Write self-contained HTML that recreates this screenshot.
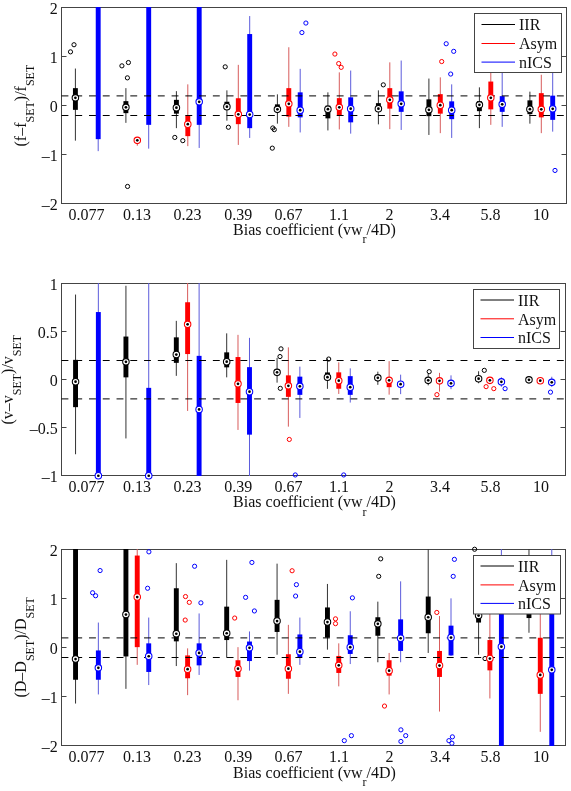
<!DOCTYPE html>
<html><head><meta charset="utf-8"><style>
html,body{margin:0;padding:0;background:#fff;}
svg{display:block;will-change:transform;}
.t{font-family:"Liberation Serif",serif;font-size:16px;fill:#111;}
</style></head><body>
<svg width="571" height="791" viewBox="0 0 571 791">
<rect width="571" height="791" fill="#fff"/>
<rect x="61.5" y="7.5" width="505.0" height="196.0" fill="none" stroke="#444" stroke-width="1"/>
<line x1="61.5" y1="7.5" x2="66.5" y2="7.5" stroke="#444" stroke-width="1"/>
<line x1="566.5" y1="7.5" x2="561.5" y2="7.5" stroke="#444" stroke-width="1"/>
<line x1="61.5" y1="56.5" x2="66.5" y2="56.5" stroke="#444" stroke-width="1"/>
<line x1="566.5" y1="56.5" x2="561.5" y2="56.5" stroke="#444" stroke-width="1"/>
<line x1="61.5" y1="105.5" x2="66.5" y2="105.5" stroke="#444" stroke-width="1"/>
<line x1="566.5" y1="105.5" x2="561.5" y2="105.5" stroke="#444" stroke-width="1"/>
<line x1="61.5" y1="154.5" x2="66.5" y2="154.5" stroke="#444" stroke-width="1"/>
<line x1="566.5" y1="154.5" x2="561.5" y2="154.5" stroke="#444" stroke-width="1"/>
<line x1="61.5" y1="203.5" x2="66.5" y2="203.5" stroke="#444" stroke-width="1"/>
<line x1="566.5" y1="203.5" x2="561.5" y2="203.5" stroke="#444" stroke-width="1"/>
<text x="57.8" y="14.0" text-anchor="end" class="t">2</text>
<text x="57.8" y="63.0" text-anchor="end" class="t">1</text>
<text x="57.8" y="112.0" text-anchor="end" class="t">0</text>
<text x="57.8" y="161.0" text-anchor="end" class="t">–1</text>
<text x="57.8" y="210.0" text-anchor="end" class="t">–2</text>
<clipPath id="c1"><rect x="61.0" y="7.0" width="506.0" height="197.0"/></clipPath>
<g clip-path="url(#c1)">
<line x1="75.4" y1="68.55" x2="75.4" y2="140.65" stroke="#333" stroke-width="1"/>
<rect x="72.95" y="88.15" width="4.9" height="21.70" fill="#000"/>
<line x1="98.2" y1="-49.75" x2="98.2" y2="151.15" stroke="#5c5cdc" stroke-width="1"/>
<rect x="95.75" y="-49.75" width="4.9" height="188.90" fill="#00f"/>
<line x1="125.9" y1="88.15" x2="125.9" y2="122.85" stroke="#333" stroke-width="1"/>
<rect x="123.45" y="101.15" width="4.9" height="12.00" fill="#000"/>
<line x1="137.3" y1="140.35" x2="137.3" y2="145.75" stroke="#d85c5c" stroke-width="1"/>
<line x1="148.7" y1="-49.75" x2="148.7" y2="148.65" stroke="#5c5cdc" stroke-width="1"/>
<rect x="146.25" y="-49.75" width="4.9" height="174.60" fill="#00f"/>
<line x1="176.4" y1="91.15" x2="176.4" y2="128.15" stroke="#333" stroke-width="1"/>
<rect x="173.95" y="99.85" width="4.9" height="13.80" fill="#000"/>
<line x1="187.8" y1="84.35" x2="187.8" y2="146.15" stroke="#d85c5c" stroke-width="1"/>
<rect x="185.35" y="115.65" width="4.9" height="20.50" fill="#f00"/>
<line x1="199.2" y1="-49.75" x2="199.2" y2="147.95" stroke="#5c5cdc" stroke-width="1"/>
<rect x="196.75" y="-49.75" width="4.9" height="174.60" fill="#00f"/>
<line x1="226.9" y1="90.35" x2="226.9" y2="120.65" stroke="#333" stroke-width="1"/>
<rect x="224.45" y="101.75" width="4.9" height="8.20" fill="#000"/>
<line x1="238.3" y1="64.85" x2="238.3" y2="144.95" stroke="#d85c5c" stroke-width="1"/>
<rect x="235.85" y="98.25" width="4.9" height="25.90" fill="#f00"/>
<line x1="249.7" y1="16.05" x2="249.7" y2="137.95" stroke="#5c5cdc" stroke-width="1"/>
<rect x="247.25" y="34.05" width="4.9" height="94.10" fill="#00f"/>
<line x1="277.4" y1="94.35" x2="277.4" y2="123.65" stroke="#333" stroke-width="1"/>
<rect x="274.95" y="104.35" width="4.9" height="7.50" fill="#000"/>
<line x1="288.8" y1="47.25" x2="288.8" y2="126.85" stroke="#d85c5c" stroke-width="1"/>
<rect x="286.35" y="88.15" width="4.9" height="28.50" fill="#f00"/>
<line x1="300.2" y1="68.85" x2="300.2" y2="132.45" stroke="#5c5cdc" stroke-width="1"/>
<rect x="297.75" y="92.35" width="4.9" height="25.00" fill="#00f"/>
<line x1="327.9" y1="92.35" x2="327.9" y2="130.45" stroke="#333" stroke-width="1"/>
<rect x="325.45" y="105.65" width="4.9" height="12.70" fill="#000"/>
<line x1="339.3" y1="72.35" x2="339.3" y2="129.45" stroke="#d85c5c" stroke-width="1"/>
<rect x="336.85" y="98.15" width="4.9" height="17.20" fill="#f00"/>
<line x1="350.7" y1="70.55" x2="350.7" y2="133.65" stroke="#5c5cdc" stroke-width="1"/>
<rect x="348.25" y="97.35" width="4.9" height="25.00" fill="#00f"/>
<line x1="378.4" y1="90.35" x2="378.4" y2="124.35" stroke="#333" stroke-width="1"/>
<rect x="375.95" y="103.15" width="4.9" height="8.00" fill="#000"/>
<line x1="389.8" y1="62.35" x2="389.8" y2="129.15" stroke="#d85c5c" stroke-width="1"/>
<rect x="387.35" y="88.15" width="4.9" height="20.50" fill="#f00"/>
<line x1="401.2" y1="60.55" x2="401.2" y2="129.95" stroke="#5c5cdc" stroke-width="1"/>
<rect x="398.75" y="91.35" width="4.9" height="20.50" fill="#00f"/>
<line x1="428.9" y1="78.55" x2="428.9" y2="134.95" stroke="#333" stroke-width="1"/>
<rect x="426.45" y="99.35" width="4.9" height="16.80" fill="#000"/>
<line x1="440.3" y1="77.35" x2="440.3" y2="133.15" stroke="#d85c5c" stroke-width="1"/>
<rect x="437.85" y="94.15" width="4.9" height="19.50" fill="#f00"/>
<line x1="451.7" y1="84.35" x2="451.7" y2="137.95" stroke="#5c5cdc" stroke-width="1"/>
<rect x="449.25" y="101.35" width="4.9" height="17.80" fill="#00f"/>
<line x1="479.4" y1="87.35" x2="479.4" y2="128.15" stroke="#333" stroke-width="1"/>
<rect x="476.95" y="101.15" width="4.9" height="10.00" fill="#000"/>
<line x1="490.8" y1="60.25" x2="490.8" y2="124.85" stroke="#d85c5c" stroke-width="1"/>
<rect x="488.35" y="81.55" width="4.9" height="27.80" fill="#f00"/>
<line x1="502.2" y1="60.25" x2="502.2" y2="126.85" stroke="#5c5cdc" stroke-width="1"/>
<rect x="499.75" y="96.15" width="4.9" height="15.70" fill="#00f"/>
<line x1="529.9" y1="91.65" x2="529.9" y2="123.65" stroke="#333" stroke-width="1"/>
<rect x="527.45" y="100.35" width="4.9" height="13.80" fill="#000"/>
<line x1="541.3" y1="74.75" x2="541.3" y2="133.15" stroke="#d85c5c" stroke-width="1"/>
<rect x="538.85" y="93.15" width="4.9" height="24.20" fill="#f00"/>
<line x1="552.7" y1="60.25" x2="552.7" y2="131.65" stroke="#5c5cdc" stroke-width="1"/>
<rect x="550.25" y="95.65" width="4.9" height="24.20" fill="#00f"/>
</g>
<line x1="61.5" y1="95.90" x2="566.5" y2="95.90" stroke="#000" stroke-width="1" stroke-dasharray="6.9 6.86"/>
<line x1="61.5" y1="115.50" x2="566.5" y2="115.50" stroke="#000" stroke-width="1" stroke-dasharray="6.9 6.86"/>
<circle cx="70.5" cy="51.85" r="2.1" fill="none" stroke="#000" stroke-width="1.0"/>
<circle cx="74" cy="44.75" r="2.1" fill="none" stroke="#000" stroke-width="1.0"/>
<circle cx="75.4" cy="97.85" r="3.25" fill="#fff" stroke="#000" stroke-width="1.05"/>
<circle cx="75.4" cy="97.85" r="1.35" fill="#000"/>
<circle cx="121.9" cy="65.85" r="2.1" fill="none" stroke="#000" stroke-width="1.0"/>
<circle cx="128.4" cy="62.55" r="2.1" fill="none" stroke="#000" stroke-width="1.0"/>
<circle cx="127.4" cy="77.85" r="2.1" fill="none" stroke="#000" stroke-width="1.0"/>
<circle cx="127.55" cy="186.45" r="2.1" fill="none" stroke="#000" stroke-width="1.0"/>
<circle cx="125.9" cy="107.35" r="3.25" fill="#fff" stroke="#000" stroke-width="1.05"/>
<circle cx="125.9" cy="107.35" r="1.35" fill="#000"/>
<circle cx="137.3" cy="140.35" r="3.25" fill="#fff" stroke="#f00" stroke-width="1.05"/>
<circle cx="137.3" cy="140.35" r="1.35" fill="#000"/>
<circle cx="174.8" cy="137.45" r="2.1" fill="none" stroke="#000" stroke-width="1.0"/>
<circle cx="182.8" cy="140.65" r="2.1" fill="none" stroke="#000" stroke-width="1.0"/>
<circle cx="176.4" cy="107.65" r="3.25" fill="#fff" stroke="#000" stroke-width="1.05"/>
<circle cx="176.4" cy="107.65" r="1.35" fill="#000"/>
<circle cx="187.8" cy="124.15" r="3.25" fill="#fff" stroke="#f00" stroke-width="1.05"/>
<circle cx="187.8" cy="124.15" r="1.35" fill="#000"/>
<circle cx="199.2" cy="101.85" r="3.25" fill="#fff" stroke="#00f" stroke-width="1.05"/>
<circle cx="199.2" cy="101.85" r="1.35" fill="#000"/>
<circle cx="225.2" cy="66.85" r="2.1" fill="none" stroke="#000" stroke-width="1.0"/>
<circle cx="228.4" cy="127.25" r="2.1" fill="none" stroke="#000" stroke-width="1.0"/>
<circle cx="226.9" cy="106.65" r="3.25" fill="#fff" stroke="#000" stroke-width="1.05"/>
<circle cx="226.9" cy="106.65" r="1.35" fill="#000"/>
<circle cx="238.3" cy="114.35" r="3.25" fill="#fff" stroke="#f00" stroke-width="1.05"/>
<circle cx="238.3" cy="114.35" r="1.35" fill="#000"/>
<circle cx="249.7" cy="114.55" r="3.25" fill="#fff" stroke="#00f" stroke-width="1.05"/>
<circle cx="249.7" cy="114.55" r="1.35" fill="#000"/>
<circle cx="272.8" cy="127.95" r="2.1" fill="none" stroke="#000" stroke-width="1.0"/>
<circle cx="274.3" cy="129.65" r="2.1" fill="none" stroke="#000" stroke-width="1.0"/>
<circle cx="272.3" cy="148.15" r="2.1" fill="none" stroke="#000" stroke-width="1.0"/>
<circle cx="277.4" cy="109.35" r="3.25" fill="#fff" stroke="#000" stroke-width="1.05"/>
<circle cx="277.4" cy="109.35" r="1.35" fill="#000"/>
<circle cx="288.8" cy="103.85" r="3.25" fill="#fff" stroke="#f00" stroke-width="1.05"/>
<circle cx="288.8" cy="103.85" r="1.35" fill="#000"/>
<circle cx="301.9" cy="32.55" r="2.1" fill="none" stroke="#00f" stroke-width="1.0"/>
<circle cx="305.9" cy="23.05" r="2.1" fill="none" stroke="#00f" stroke-width="1.0"/>
<circle cx="300.2" cy="110.15" r="3.25" fill="#fff" stroke="#00f" stroke-width="1.05"/>
<circle cx="300.2" cy="110.15" r="1.35" fill="#000"/>
<circle cx="327.9" cy="109.15" r="3.25" fill="#fff" stroke="#000" stroke-width="1.05"/>
<circle cx="327.9" cy="109.15" r="1.35" fill="#000"/>
<circle cx="334.9" cy="54.05" r="2.1" fill="none" stroke="#f00" stroke-width="1.0"/>
<circle cx="338.7" cy="63.55" r="2.1" fill="none" stroke="#f00" stroke-width="1.0"/>
<circle cx="341.2" cy="67.35" r="2.1" fill="none" stroke="#f00" stroke-width="1.0"/>
<circle cx="339.3" cy="107.35" r="3.25" fill="#fff" stroke="#f00" stroke-width="1.05"/>
<circle cx="339.3" cy="107.35" r="1.35" fill="#000"/>
<circle cx="350.7" cy="108.65" r="3.25" fill="#fff" stroke="#00f" stroke-width="1.05"/>
<circle cx="350.7" cy="108.65" r="1.35" fill="#000"/>
<circle cx="383.3" cy="84.85" r="2.1" fill="none" stroke="#000" stroke-width="1.0"/>
<circle cx="378.4" cy="108.65" r="3.25" fill="#fff" stroke="#000" stroke-width="1.05"/>
<circle cx="378.4" cy="108.65" r="1.35" fill="#000"/>
<circle cx="389.8" cy="99.85" r="3.25" fill="#fff" stroke="#f00" stroke-width="1.05"/>
<circle cx="389.8" cy="99.85" r="1.35" fill="#000"/>
<circle cx="401.2" cy="103.85" r="3.25" fill="#fff" stroke="#00f" stroke-width="1.05"/>
<circle cx="401.2" cy="103.85" r="1.35" fill="#000"/>
<circle cx="428.9" cy="109.85" r="3.25" fill="#fff" stroke="#000" stroke-width="1.05"/>
<circle cx="428.9" cy="109.85" r="1.35" fill="#000"/>
<circle cx="441.7" cy="61.55" r="2.1" fill="none" stroke="#f00" stroke-width="1.0"/>
<circle cx="440.3" cy="105.15" r="3.25" fill="#fff" stroke="#f00" stroke-width="1.05"/>
<circle cx="440.3" cy="105.15" r="1.35" fill="#000"/>
<circle cx="446.2" cy="43.75" r="2.1" fill="none" stroke="#00f" stroke-width="1.0"/>
<circle cx="453.7" cy="51.35" r="2.1" fill="none" stroke="#00f" stroke-width="1.0"/>
<circle cx="450.7" cy="74.05" r="2.1" fill="none" stroke="#00f" stroke-width="1.0"/>
<circle cx="451.7" cy="110.15" r="3.25" fill="#fff" stroke="#00f" stroke-width="1.05"/>
<circle cx="451.7" cy="110.15" r="1.35" fill="#000"/>
<circle cx="479.4" cy="104.85" r="3.25" fill="#fff" stroke="#000" stroke-width="1.05"/>
<circle cx="479.4" cy="104.85" r="1.35" fill="#000"/>
<circle cx="490.8" cy="97.85" r="3.25" fill="#fff" stroke="#f00" stroke-width="1.05"/>
<circle cx="490.8" cy="97.85" r="1.35" fill="#000"/>
<circle cx="502.2" cy="104.35" r="3.25" fill="#fff" stroke="#00f" stroke-width="1.05"/>
<circle cx="502.2" cy="104.35" r="1.35" fill="#000"/>
<circle cx="529.9" cy="109.15" r="3.25" fill="#fff" stroke="#000" stroke-width="1.05"/>
<circle cx="529.9" cy="109.15" r="1.35" fill="#000"/>
<circle cx="541.3" cy="109.35" r="3.25" fill="#fff" stroke="#f00" stroke-width="1.05"/>
<circle cx="541.3" cy="109.35" r="1.35" fill="#000"/>
<circle cx="555" cy="170.45" r="2.1" fill="none" stroke="#00f" stroke-width="1.0"/>
<circle cx="552.7" cy="108.85" r="3.25" fill="#fff" stroke="#00f" stroke-width="1.05"/>
<circle cx="552.7" cy="108.85" r="1.35" fill="#000"/>
<rect x="474.5" y="13.5" width="87.0" height="59.0" fill="#fff" stroke="#444" stroke-width="1"/>
<line x1="481.5" y1="24.5" x2="515.0" y2="24.5" stroke="#000" stroke-width="1"/>
<text x="519.0" y="30.3" class="t">IIR</text>
<line x1="481.5" y1="43.5" x2="515.0" y2="43.5" stroke="#f00" stroke-width="1"/>
<text x="519.0" y="49.3" class="t">Asym</text>
<line x1="481.5" y1="62.1" x2="515.0" y2="62.1" stroke="#00f" stroke-width="1"/>
<text x="519.0" y="67.9" class="t">nICS</text>
<text x="86.6" y="219.5" text-anchor="middle" class="t">0.077</text>
<text x="137.1" y="219.5" text-anchor="middle" class="t">0.13</text>
<text x="187.6" y="219.5" text-anchor="middle" class="t">0.23</text>
<text x="238.2" y="219.5" text-anchor="middle" class="t">0.39</text>
<text x="288.6" y="219.5" text-anchor="middle" class="t">0.67</text>
<text x="339.1" y="219.5" text-anchor="middle" class="t">1.1</text>
<text x="389.6" y="219.5" text-anchor="middle" class="t">2</text>
<text x="440.1" y="219.5" text-anchor="middle" class="t">3.4</text>
<text x="490.6" y="219.5" text-anchor="middle" class="t">5.8</text>
<text x="541.1" y="219.5" text-anchor="middle" class="t">10</text>
<text x="314.5" y="235" text-anchor="middle" class="t">Bias coefficient (vw<tspan font-size="12" dy="8.4">r</tspan><tspan dy="-8.4">/4D)</tspan></text>
<text transform="translate(25.8,105.6) rotate(-90)" text-anchor="middle" class="t">(f–f<tspan font-size="12" dy="8.4">SET</tspan><tspan dy="-8.4">)/f</tspan><tspan font-size="12" dy="8.4">SET</tspan></text>
<rect x="61.5" y="283.5" width="504.0" height="192.0" fill="none" stroke="#444" stroke-width="1"/>
<line x1="61.5" y1="283.5" x2="66.5" y2="283.5" stroke="#444" stroke-width="1"/>
<line x1="565.5" y1="283.5" x2="560.5" y2="283.5" stroke="#444" stroke-width="1"/>
<line x1="61.5" y1="331.5" x2="66.5" y2="331.5" stroke="#444" stroke-width="1"/>
<line x1="565.5" y1="331.5" x2="560.5" y2="331.5" stroke="#444" stroke-width="1"/>
<line x1="61.5" y1="379.5" x2="66.5" y2="379.5" stroke="#444" stroke-width="1"/>
<line x1="565.5" y1="379.5" x2="560.5" y2="379.5" stroke="#444" stroke-width="1"/>
<line x1="61.5" y1="427.5" x2="66.5" y2="427.5" stroke="#444" stroke-width="1"/>
<line x1="565.5" y1="427.5" x2="560.5" y2="427.5" stroke="#444" stroke-width="1"/>
<line x1="61.5" y1="475.5" x2="66.5" y2="475.5" stroke="#444" stroke-width="1"/>
<line x1="565.5" y1="475.5" x2="560.5" y2="475.5" stroke="#444" stroke-width="1"/>
<text x="57.8" y="290.0" text-anchor="end" class="t">1</text>
<text x="57.8" y="338.0" text-anchor="end" class="t">0.5</text>
<text x="57.8" y="386.0" text-anchor="end" class="t">0</text>
<text x="57.8" y="434.0" text-anchor="end" class="t">–0.5</text>
<text x="57.8" y="482.0" text-anchor="end" class="t">–1</text>
<clipPath id="c2"><rect x="61.0" y="283.0" width="505.0" height="193.0"/></clipPath>
<g clip-path="url(#c2)">
<line x1="75.55" y1="294.55" x2="75.55" y2="454.25" stroke="#333" stroke-width="1"/>
<rect x="73.10" y="359.85" width="4.9" height="47.30" fill="#000"/>
<line x1="98.35" y1="-49.75" x2="98.35" y2="1000.25" stroke="#5c5cdc" stroke-width="1"/>
<rect x="95.90" y="312.05" width="4.9" height="688.20" fill="#00f"/>
<line x1="125.93" y1="285.75" x2="125.93" y2="438.45" stroke="#333" stroke-width="1"/>
<rect x="123.48" y="336.55" width="4.9" height="40.80" fill="#000"/>
<line x1="148.73" y1="-49.75" x2="148.73" y2="1000.25" stroke="#5c5cdc" stroke-width="1"/>
<rect x="146.28" y="387.85" width="4.9" height="612.40" fill="#00f"/>
<line x1="176.31" y1="320.85" x2="176.31" y2="375.85" stroke="#333" stroke-width="1"/>
<rect x="173.86" y="337.35" width="4.9" height="25.50" fill="#000"/>
<line x1="187.61" y1="-49.75" x2="187.61" y2="410.95" stroke="#d85c5c" stroke-width="1"/>
<rect x="185.16" y="302.25" width="4.9" height="51.80" fill="#f00"/>
<line x1="199.11" y1="-49.75" x2="199.11" y2="1000.25" stroke="#5c5cdc" stroke-width="1"/>
<rect x="196.66" y="355.85" width="4.9" height="644.40" fill="#00f"/>
<line x1="226.69" y1="333.35" x2="226.69" y2="377.35" stroke="#333" stroke-width="1"/>
<rect x="224.24" y="352.35" width="4.9" height="15.00" fill="#000"/>
<line x1="237.99" y1="334.85" x2="237.99" y2="429.95" stroke="#d85c5c" stroke-width="1"/>
<rect x="235.54" y="357.05" width="4.9" height="45.90" fill="#f00"/>
<line x1="249.49" y1="337.85" x2="249.49" y2="1000.25" stroke="#5c5cdc" stroke-width="1"/>
<rect x="247.04" y="367.15" width="4.9" height="67.50" fill="#00f"/>
<line x1="277.07" y1="357.95" x2="277.07" y2="382.65" stroke="#333" stroke-width="1"/>
<rect x="274.62" y="369.25" width="4.9" height="6.00" fill="#000"/>
<line x1="288.37" y1="347.35" x2="288.37" y2="426.65" stroke="#d85c5c" stroke-width="1"/>
<rect x="285.92" y="375.35" width="4.9" height="21.50" fill="#f00"/>
<line x1="299.87" y1="366.65" x2="299.87" y2="417.95" stroke="#5c5cdc" stroke-width="1"/>
<rect x="297.42" y="376.65" width="4.9" height="18.20" fill="#00f"/>
<line x1="327.45" y1="358.55" x2="327.45" y2="388.85" stroke="#333" stroke-width="1"/>
<rect x="325.00" y="372.45" width="4.9" height="6.70" fill="#000"/>
<line x1="338.75" y1="362.35" x2="338.75" y2="393.95" stroke="#d85c5c" stroke-width="1"/>
<rect x="336.30" y="372.35" width="4.9" height="16.40" fill="#f00"/>
<line x1="350.25" y1="368.35" x2="350.25" y2="402.55" stroke="#5c5cdc" stroke-width="1"/>
<rect x="347.80" y="376.15" width="4.9" height="18.70" fill="#00f"/>
<line x1="377.83" y1="371.65" x2="377.83" y2="384.85" stroke="#333" stroke-width="1"/>
<line x1="389.13" y1="361.15" x2="389.13" y2="394.65" stroke="#d85c5c" stroke-width="1"/>
<rect x="386.68" y="380.35" width="4.9" height="6.80" fill="#f00"/>
<line x1="400.63" y1="374.65" x2="400.63" y2="394.15" stroke="#5c5cdc" stroke-width="1"/>
<line x1="428.21" y1="373.85" x2="428.21" y2="385.35" stroke="#333" stroke-width="1"/>
<line x1="439.51" y1="372.85" x2="439.51" y2="391.65" stroke="#d85c5c" stroke-width="1"/>
<line x1="451.01" y1="375.35" x2="451.01" y2="389.15" stroke="#5c5cdc" stroke-width="1"/>
<line x1="478.59" y1="371.25" x2="478.59" y2="383.25" stroke="#333" stroke-width="1"/>
<line x1="501.39" y1="377.25" x2="501.39" y2="386.75" stroke="#5c5cdc" stroke-width="1"/>
<line x1="551.77" y1="376.75" x2="551.77" y2="386.75" stroke="#5c5cdc" stroke-width="1"/>
</g>
<line x1="61.5" y1="360.50" x2="565.5" y2="360.50" stroke="#000" stroke-width="1" stroke-dasharray="6.9 6.86"/>
<line x1="61.5" y1="398.90" x2="565.5" y2="398.90" stroke="#000" stroke-width="1" stroke-dasharray="6.9 6.86"/>
<circle cx="75.55" cy="381.65" r="3.25" fill="#fff" stroke="#000" stroke-width="1.05"/>
<circle cx="75.55" cy="381.65" r="1.35" fill="#000"/>
<circle cx="98.35" cy="475.75" r="3.25" fill="#fff" stroke="#00f" stroke-width="1.05"/>
<circle cx="98.35" cy="475.75" r="1.35" fill="#000"/>
<circle cx="125.93" cy="361.85" r="3.25" fill="#fff" stroke="#000" stroke-width="1.05"/>
<circle cx="125.93" cy="361.85" r="1.35" fill="#000"/>
<circle cx="148.73" cy="475.75" r="3.25" fill="#fff" stroke="#00f" stroke-width="1.05"/>
<circle cx="148.73" cy="475.75" r="1.35" fill="#000"/>
<circle cx="176.31" cy="354.55" r="3.25" fill="#fff" stroke="#000" stroke-width="1.05"/>
<circle cx="176.31" cy="354.55" r="1.35" fill="#000"/>
<circle cx="187.61" cy="324.35" r="3.25" fill="#fff" stroke="#f00" stroke-width="1.05"/>
<circle cx="187.61" cy="324.35" r="1.35" fill="#000"/>
<circle cx="199.11" cy="409.45" r="3.25" fill="#fff" stroke="#00f" stroke-width="1.05"/>
<circle cx="199.11" cy="409.45" r="1.35" fill="#000"/>
<circle cx="226.69" cy="361.65" r="3.25" fill="#fff" stroke="#000" stroke-width="1.05"/>
<circle cx="226.69" cy="361.65" r="1.35" fill="#000"/>
<circle cx="237.99" cy="383.85" r="3.25" fill="#fff" stroke="#f00" stroke-width="1.05"/>
<circle cx="237.99" cy="383.85" r="1.35" fill="#000"/>
<circle cx="249.49" cy="391.65" r="3.25" fill="#fff" stroke="#00f" stroke-width="1.05"/>
<circle cx="249.49" cy="391.65" r="1.35" fill="#000"/>
<circle cx="281" cy="348.85" r="2.1" fill="none" stroke="#000" stroke-width="1.0"/>
<circle cx="280" cy="356.55" r="2.1" fill="none" stroke="#000" stroke-width="1.0"/>
<circle cx="280.3" cy="388.35" r="2.1" fill="none" stroke="#000" stroke-width="1.0"/>
<circle cx="277.07" cy="372.35" r="3.25" fill="#fff" stroke="#000" stroke-width="1.05"/>
<circle cx="277.07" cy="372.35" r="1.35" fill="#000"/>
<circle cx="289.3" cy="439.45" r="2.1" fill="none" stroke="#f00" stroke-width="1.0"/>
<circle cx="288.37" cy="385.85" r="3.25" fill="#fff" stroke="#f00" stroke-width="1.05"/>
<circle cx="288.37" cy="385.85" r="1.35" fill="#000"/>
<circle cx="295.3" cy="474.95" r="2.1" fill="none" stroke="#00f" stroke-width="1.0"/>
<circle cx="299.87" cy="386.35" r="3.25" fill="#fff" stroke="#00f" stroke-width="1.05"/>
<circle cx="299.87" cy="386.35" r="1.35" fill="#000"/>
<circle cx="328.7" cy="359.05" r="2.1" fill="none" stroke="#000" stroke-width="1.0"/>
<circle cx="327.45" cy="377.15" r="3.25" fill="#fff" stroke="#000" stroke-width="1.05"/>
<circle cx="327.45" cy="377.15" r="1.35" fill="#000"/>
<circle cx="338.75" cy="380.65" r="3.25" fill="#fff" stroke="#f00" stroke-width="1.05"/>
<circle cx="338.75" cy="380.65" r="1.35" fill="#000"/>
<circle cx="343.7" cy="474.95" r="2.1" fill="none" stroke="#00f" stroke-width="1.0"/>
<circle cx="350.25" cy="387.15" r="3.25" fill="#fff" stroke="#00f" stroke-width="1.05"/>
<circle cx="350.25" cy="387.15" r="1.35" fill="#000"/>
<circle cx="377.83" cy="377.85" r="3.25" fill="#fff" stroke="#000" stroke-width="1.05"/>
<circle cx="377.83" cy="377.85" r="1.35" fill="#000"/>
<circle cx="389.13" cy="380.35" r="3.25" fill="#fff" stroke="#f00" stroke-width="1.05"/>
<circle cx="389.13" cy="380.35" r="1.35" fill="#000"/>
<circle cx="400.63" cy="384.15" r="3.25" fill="#fff" stroke="#00f" stroke-width="1.05"/>
<circle cx="400.63" cy="384.15" r="1.35" fill="#000"/>
<circle cx="429.2" cy="371.65" r="2.1" fill="none" stroke="#000" stroke-width="1.0"/>
<circle cx="428.21" cy="380.35" r="3.25" fill="#fff" stroke="#000" stroke-width="1.05"/>
<circle cx="428.21" cy="380.35" r="1.35" fill="#000"/>
<circle cx="436.9" cy="394.65" r="2.1" fill="none" stroke="#f00" stroke-width="1.0"/>
<circle cx="439.51" cy="380.85" r="3.25" fill="#fff" stroke="#f00" stroke-width="1.05"/>
<circle cx="439.51" cy="380.85" r="1.35" fill="#000"/>
<circle cx="451.01" cy="383.35" r="3.25" fill="#fff" stroke="#00f" stroke-width="1.05"/>
<circle cx="451.01" cy="383.35" r="1.35" fill="#000"/>
<circle cx="484.3" cy="370.35" r="2.1" fill="none" stroke="#000" stroke-width="1.0"/>
<circle cx="478.59" cy="378.65" r="3.25" fill="#fff" stroke="#000" stroke-width="1.05"/>
<circle cx="478.59" cy="378.65" r="1.35" fill="#000"/>
<circle cx="486.1" cy="386.65" r="2.1" fill="none" stroke="#f00" stroke-width="1.0"/>
<circle cx="493.8" cy="388.65" r="2.1" fill="none" stroke="#f00" stroke-width="1.0"/>
<circle cx="489.89" cy="380.35" r="3.25" fill="#fff" stroke="#f00" stroke-width="1.05"/>
<circle cx="489.89" cy="380.35" r="1.35" fill="#000"/>
<circle cx="505.1" cy="388.65" r="2.1" fill="none" stroke="#00f" stroke-width="1.0"/>
<circle cx="501.39" cy="381.85" r="3.25" fill="#fff" stroke="#00f" stroke-width="1.05"/>
<circle cx="501.39" cy="381.85" r="1.35" fill="#000"/>
<circle cx="528.97" cy="379.85" r="3.25" fill="#fff" stroke="#000" stroke-width="1.05"/>
<circle cx="528.97" cy="379.85" r="1.35" fill="#000"/>
<circle cx="540.27" cy="380.65" r="3.25" fill="#fff" stroke="#f00" stroke-width="1.05"/>
<circle cx="540.27" cy="380.65" r="1.35" fill="#000"/>
<circle cx="550.5" cy="392.15" r="2.1" fill="none" stroke="#00f" stroke-width="1.0"/>
<circle cx="551.77" cy="382.35" r="3.25" fill="#fff" stroke="#00f" stroke-width="1.05"/>
<circle cx="551.77" cy="382.35" r="1.35" fill="#000"/>
<rect x="473.5" y="289.5" width="86.0" height="59.0" fill="#fff" stroke="#444" stroke-width="1"/>
<line x1="480.5" y1="300.0" x2="514.0" y2="300.0" stroke="#000" stroke-width="1"/>
<text x="518.0" y="305.8" class="t">IIR</text>
<line x1="480.5" y1="318.8" x2="514.0" y2="318.8" stroke="#f00" stroke-width="1"/>
<text x="518.0" y="324.6" class="t">Asym</text>
<line x1="480.5" y1="337.5" x2="514.0" y2="337.5" stroke="#00f" stroke-width="1"/>
<text x="518.0" y="343.3" class="t">nICS</text>
<text x="86.6" y="492" text-anchor="middle" class="t">0.077</text>
<text x="137.1" y="492" text-anchor="middle" class="t">0.13</text>
<text x="187.6" y="492" text-anchor="middle" class="t">0.23</text>
<text x="238.2" y="492" text-anchor="middle" class="t">0.39</text>
<text x="288.6" y="492" text-anchor="middle" class="t">0.67</text>
<text x="339.1" y="492" text-anchor="middle" class="t">1.1</text>
<text x="389.6" y="492" text-anchor="middle" class="t">2</text>
<text x="440.1" y="492" text-anchor="middle" class="t">3.4</text>
<text x="490.6" y="492" text-anchor="middle" class="t">5.8</text>
<text x="541.1" y="492" text-anchor="middle" class="t">10</text>
<text x="314.5" y="507.3" text-anchor="middle" class="t">Bias coefficient (vw<tspan font-size="12" dy="8.4">r</tspan><tspan dy="-8.4">/4D)</tspan></text>
<text transform="translate(12.9,379.7) rotate(-90)" text-anchor="middle" class="t">(v–v<tspan font-size="12" dy="8.4">SET</tspan><tspan dy="-8.4">)/v</tspan><tspan font-size="12" dy="8.4">SET</tspan></text>
<rect x="61.5" y="549.5" width="504.0" height="196.0" fill="none" stroke="#444" stroke-width="1"/>
<line x1="61.5" y1="549.5" x2="66.5" y2="549.5" stroke="#444" stroke-width="1"/>
<line x1="565.5" y1="549.5" x2="560.5" y2="549.5" stroke="#444" stroke-width="1"/>
<line x1="61.5" y1="598.5" x2="66.5" y2="598.5" stroke="#444" stroke-width="1"/>
<line x1="565.5" y1="598.5" x2="560.5" y2="598.5" stroke="#444" stroke-width="1"/>
<line x1="61.5" y1="647.5" x2="66.5" y2="647.5" stroke="#444" stroke-width="1"/>
<line x1="565.5" y1="647.5" x2="560.5" y2="647.5" stroke="#444" stroke-width="1"/>
<line x1="61.5" y1="696.5" x2="66.5" y2="696.5" stroke="#444" stroke-width="1"/>
<line x1="565.5" y1="696.5" x2="560.5" y2="696.5" stroke="#444" stroke-width="1"/>
<line x1="61.5" y1="745.5" x2="66.5" y2="745.5" stroke="#444" stroke-width="1"/>
<line x1="565.5" y1="745.5" x2="560.5" y2="745.5" stroke="#444" stroke-width="1"/>
<text x="57.8" y="556.0" text-anchor="end" class="t">2</text>
<text x="57.8" y="605.0" text-anchor="end" class="t">1</text>
<text x="57.8" y="654.0" text-anchor="end" class="t">0</text>
<text x="57.8" y="703.0" text-anchor="end" class="t">–1</text>
<text x="57.8" y="752.0" text-anchor="end" class="t">–2</text>
<clipPath id="c3"><rect x="61.0" y="549.0" width="505.0" height="197.0"/></clipPath>
<g clip-path="url(#c3)">
<line x1="75.55" y1="-49.75" x2="75.55" y2="703.55" stroke="#333" stroke-width="1"/>
<rect x="73.10" y="-49.75" width="4.9" height="729.50" fill="#000"/>
<line x1="98.35" y1="622.55" x2="98.35" y2="694.45" stroke="#5c5cdc" stroke-width="1"/>
<rect x="95.90" y="650.45" width="4.9" height="29.30" fill="#00f"/>
<line x1="125.93" y1="-49.75" x2="125.93" y2="688.85" stroke="#333" stroke-width="1"/>
<rect x="123.48" y="-49.75" width="4.9" height="706.20" fill="#000"/>
<line x1="137.23" y1="-49.75" x2="137.23" y2="664.85" stroke="#d85c5c" stroke-width="1"/>
<rect x="134.78" y="555.55" width="4.9" height="91.60" fill="#f00"/>
<line x1="148.73" y1="617.55" x2="148.73" y2="685.05" stroke="#5c5cdc" stroke-width="1"/>
<rect x="146.28" y="643.35" width="4.9" height="28.60" fill="#00f"/>
<line x1="176.31" y1="563.15" x2="176.31" y2="666.05" stroke="#333" stroke-width="1"/>
<rect x="173.86" y="588.25" width="4.9" height="53.10" fill="#000"/>
<line x1="187.61" y1="648.35" x2="187.61" y2="695.15" stroke="#d85c5c" stroke-width="1"/>
<rect x="185.16" y="655.45" width="4.9" height="22.80" fill="#f00"/>
<line x1="199.11" y1="613.45" x2="199.11" y2="674.95" stroke="#5c5cdc" stroke-width="1"/>
<rect x="196.66" y="643.35" width="4.9" height="22.00" fill="#00f"/>
<line x1="226.69" y1="559.85" x2="226.69" y2="657.45" stroke="#333" stroke-width="1"/>
<rect x="224.24" y="606.65" width="4.9" height="33.40" fill="#000"/>
<line x1="237.99" y1="647.15" x2="237.99" y2="700.25" stroke="#d85c5c" stroke-width="1"/>
<rect x="235.54" y="660.25" width="4.9" height="16.70" fill="#f00"/>
<line x1="249.49" y1="631.45" x2="249.49" y2="670.65" stroke="#5c5cdc" stroke-width="1"/>
<rect x="247.04" y="641.55" width="4.9" height="19.50" fill="#00f"/>
<line x1="277.07" y1="563.65" x2="277.07" y2="654.75" stroke="#333" stroke-width="1"/>
<rect x="274.62" y="599.85" width="4.9" height="32.10" fill="#000"/>
<line x1="288.37" y1="624.85" x2="288.37" y2="693.85" stroke="#d85c5c" stroke-width="1"/>
<rect x="285.92" y="654.25" width="4.9" height="24.50" fill="#f00"/>
<line x1="299.87" y1="617.55" x2="299.87" y2="664.85" stroke="#5c5cdc" stroke-width="1"/>
<rect x="297.42" y="634.45" width="4.9" height="22.80" fill="#00f"/>
<line x1="327.45" y1="583.95" x2="327.45" y2="649.65" stroke="#333" stroke-width="1"/>
<rect x="325.00" y="607.45" width="4.9" height="30.10" fill="#000"/>
<line x1="338.75" y1="643.35" x2="338.75" y2="686.35" stroke="#d85c5c" stroke-width="1"/>
<rect x="336.30" y="655.95" width="4.9" height="17.00" fill="#f00"/>
<line x1="350.25" y1="611.25" x2="350.25" y2="664.05" stroke="#5c5cdc" stroke-width="1"/>
<rect x="347.80" y="635.25" width="4.9" height="18.70" fill="#00f"/>
<line x1="377.83" y1="601.65" x2="377.83" y2="662.25" stroke="#333" stroke-width="1"/>
<rect x="375.38" y="617.25" width="4.9" height="18.50" fill="#000"/>
<line x1="389.13" y1="652.95" x2="389.13" y2="694.45" stroke="#d85c5c" stroke-width="1"/>
<rect x="386.68" y="660.25" width="4.9" height="15.40" fill="#f00"/>
<line x1="400.63" y1="581.35" x2="400.63" y2="662.25" stroke="#5c5cdc" stroke-width="1"/>
<rect x="398.18" y="619.35" width="4.9" height="31.60" fill="#00f"/>
<line x1="428.21" y1="-49.75" x2="428.21" y2="652.95" stroke="#333" stroke-width="1"/>
<rect x="425.76" y="596.55" width="4.9" height="36.70" fill="#000"/>
<line x1="439.51" y1="616.05" x2="439.51" y2="711.55" stroke="#d85c5c" stroke-width="1"/>
<rect x="437.06" y="650.95" width="4.9" height="26.00" fill="#f00"/>
<line x1="451.01" y1="598.35" x2="451.01" y2="655.95" stroke="#5c5cdc" stroke-width="1"/>
<rect x="448.56" y="625.65" width="4.9" height="29.80" fill="#00f"/>
<line x1="478.59" y1="590.25" x2="478.59" y2="654.75" stroke="#333" stroke-width="1"/>
<rect x="476.14" y="600.25" width="4.9" height="22.30" fill="#000"/>
<line x1="489.89" y1="590.25" x2="489.89" y2="698.45" stroke="#d85c5c" stroke-width="1"/>
<rect x="487.44" y="640.05" width="4.9" height="30.30" fill="#f00"/>
<line x1="501.39" y1="-49.75" x2="501.39" y2="1000.25" stroke="#5c5cdc" stroke-width="1"/>
<rect x="498.94" y="570.25" width="4.9" height="430.00" fill="#00f"/>
<line x1="528.97" y1="-49.75" x2="528.97" y2="632.75" stroke="#333" stroke-width="1"/>
<rect x="526.52" y="590.25" width="4.9" height="27.80" fill="#000"/>
<line x1="540.27" y1="590.25" x2="540.27" y2="731.85" stroke="#d85c5c" stroke-width="1"/>
<rect x="537.82" y="637.75" width="4.9" height="56.10" fill="#f00"/>
<line x1="551.77" y1="-49.75" x2="551.77" y2="1000.25" stroke="#5c5cdc" stroke-width="1"/>
<rect x="549.32" y="570.25" width="4.9" height="430.00" fill="#00f"/>
</g>
<line x1="61.5" y1="637.90" x2="565.5" y2="637.90" stroke="#000" stroke-width="1" stroke-dasharray="6.9 6.86"/>
<line x1="61.5" y1="657.50" x2="565.5" y2="657.50" stroke="#000" stroke-width="1" stroke-dasharray="6.9 6.86"/>
<circle cx="75.55" cy="659.05" r="3.25" fill="#fff" stroke="#000" stroke-width="1.05"/>
<circle cx="75.55" cy="659.05" r="1.35" fill="#000"/>
<circle cx="100.1" cy="570.55" r="2.1" fill="none" stroke="#00f" stroke-width="1.0"/>
<circle cx="92.6" cy="592.75" r="2.1" fill="none" stroke="#00f" stroke-width="1.0"/>
<circle cx="95.6" cy="595.75" r="2.1" fill="none" stroke="#00f" stroke-width="1.0"/>
<circle cx="98.35" cy="667.85" r="3.25" fill="#fff" stroke="#00f" stroke-width="1.05"/>
<circle cx="98.35" cy="667.85" r="1.35" fill="#000"/>
<circle cx="125.93" cy="614.55" r="3.25" fill="#fff" stroke="#000" stroke-width="1.05"/>
<circle cx="125.93" cy="614.55" r="1.35" fill="#000"/>
<circle cx="137.23" cy="597.05" r="3.25" fill="#fff" stroke="#f00" stroke-width="1.05"/>
<circle cx="137.23" cy="597.05" r="1.35" fill="#000"/>
<circle cx="148.9" cy="551.85" r="2.1" fill="none" stroke="#00f" stroke-width="1.0"/>
<circle cx="147.6" cy="588.25" r="2.1" fill="none" stroke="#00f" stroke-width="1.0"/>
<circle cx="148.73" cy="656.25" r="3.25" fill="#fff" stroke="#00f" stroke-width="1.05"/>
<circle cx="148.73" cy="656.25" r="1.35" fill="#000"/>
<circle cx="176.31" cy="633.75" r="3.25" fill="#fff" stroke="#000" stroke-width="1.05"/>
<circle cx="176.31" cy="633.75" r="1.35" fill="#000"/>
<circle cx="185.5" cy="596.55" r="2.1" fill="none" stroke="#f00" stroke-width="1.0"/>
<circle cx="189.3" cy="602.35" r="2.1" fill="none" stroke="#f00" stroke-width="1.0"/>
<circle cx="185.2" cy="620.05" r="2.1" fill="none" stroke="#f00" stroke-width="1.0"/>
<circle cx="187.61" cy="669.15" r="3.25" fill="#fff" stroke="#f00" stroke-width="1.05"/>
<circle cx="187.61" cy="669.15" r="1.35" fill="#000"/>
<circle cx="194.6" cy="566.25" r="2.1" fill="none" stroke="#00f" stroke-width="1.0"/>
<circle cx="200.9" cy="602.85" r="2.1" fill="none" stroke="#00f" stroke-width="1.0"/>
<circle cx="199.11" cy="652.95" r="3.25" fill="#fff" stroke="#00f" stroke-width="1.05"/>
<circle cx="199.11" cy="652.95" r="1.35" fill="#000"/>
<circle cx="226.69" cy="633.25" r="3.25" fill="#fff" stroke="#000" stroke-width="1.05"/>
<circle cx="226.69" cy="633.25" r="1.35" fill="#000"/>
<circle cx="234.7" cy="618.05" r="2.1" fill="none" stroke="#f00" stroke-width="1.0"/>
<circle cx="237.99" cy="668.65" r="3.25" fill="#fff" stroke="#f00" stroke-width="1.05"/>
<circle cx="237.99" cy="668.65" r="1.35" fill="#000"/>
<circle cx="251.9" cy="562.45" r="2.1" fill="none" stroke="#00f" stroke-width="1.0"/>
<circle cx="245.6" cy="597.35" r="2.1" fill="none" stroke="#00f" stroke-width="1.0"/>
<circle cx="254.4" cy="610.95" r="2.1" fill="none" stroke="#00f" stroke-width="1.0"/>
<circle cx="249.49" cy="647.85" r="3.25" fill="#fff" stroke="#00f" stroke-width="1.05"/>
<circle cx="249.49" cy="647.85" r="1.35" fill="#000"/>
<circle cx="277.07" cy="621.05" r="3.25" fill="#fff" stroke="#000" stroke-width="1.05"/>
<circle cx="277.07" cy="621.05" r="1.35" fill="#000"/>
<circle cx="292.1" cy="570.75" r="2.1" fill="none" stroke="#f00" stroke-width="1.0"/>
<circle cx="288.37" cy="668.65" r="3.25" fill="#fff" stroke="#f00" stroke-width="1.05"/>
<circle cx="288.37" cy="668.65" r="1.35" fill="#000"/>
<circle cx="296.4" cy="584.65" r="2.1" fill="none" stroke="#00f" stroke-width="1.0"/>
<circle cx="295.6" cy="596.05" r="2.1" fill="none" stroke="#00f" stroke-width="1.0"/>
<circle cx="299.87" cy="651.65" r="3.25" fill="#fff" stroke="#00f" stroke-width="1.05"/>
<circle cx="299.87" cy="651.65" r="1.35" fill="#000"/>
<circle cx="327.45" cy="622.05" r="3.25" fill="#fff" stroke="#000" stroke-width="1.05"/>
<circle cx="327.45" cy="622.05" r="1.35" fill="#000"/>
<circle cx="335.5" cy="618.85" r="2.1" fill="none" stroke="#f00" stroke-width="1.0"/>
<circle cx="335.5" cy="623.65" r="2.1" fill="none" stroke="#f00" stroke-width="1.0"/>
<circle cx="338.75" cy="665.35" r="3.25" fill="#fff" stroke="#f00" stroke-width="1.05"/>
<circle cx="338.75" cy="665.35" r="1.35" fill="#000"/>
<circle cx="352.4" cy="597.85" r="2.1" fill="none" stroke="#00f" stroke-width="1.0"/>
<circle cx="344.3" cy="740.65" r="2.1" fill="none" stroke="#00f" stroke-width="1.0"/>
<circle cx="351.4" cy="735.65" r="2.1" fill="none" stroke="#00f" stroke-width="1.0"/>
<circle cx="350.25" cy="647.15" r="3.25" fill="#fff" stroke="#00f" stroke-width="1.05"/>
<circle cx="350.25" cy="647.15" r="1.35" fill="#000"/>
<circle cx="380.7" cy="558.85" r="2.1" fill="none" stroke="#000" stroke-width="1.0"/>
<circle cx="378.7" cy="576.35" r="2.1" fill="none" stroke="#000" stroke-width="1.0"/>
<circle cx="377.83" cy="623.85" r="3.25" fill="#fff" stroke="#000" stroke-width="1.05"/>
<circle cx="377.83" cy="623.85" r="1.35" fill="#000"/>
<circle cx="384.5" cy="706.05" r="2.1" fill="none" stroke="#f00" stroke-width="1.0"/>
<circle cx="389.13" cy="670.65" r="3.25" fill="#fff" stroke="#f00" stroke-width="1.05"/>
<circle cx="389.13" cy="670.65" r="1.35" fill="#000"/>
<circle cx="400.9" cy="729.85" r="2.1" fill="none" stroke="#00f" stroke-width="1.0"/>
<circle cx="405.7" cy="735.65" r="2.1" fill="none" stroke="#00f" stroke-width="1.0"/>
<circle cx="400.9" cy="741.45" r="2.1" fill="none" stroke="#00f" stroke-width="1.0"/>
<circle cx="400.63" cy="638.25" r="3.25" fill="#fff" stroke="#00f" stroke-width="1.05"/>
<circle cx="400.63" cy="638.25" r="1.35" fill="#000"/>
<circle cx="428.21" cy="617.25" r="3.25" fill="#fff" stroke="#000" stroke-width="1.05"/>
<circle cx="428.21" cy="617.25" r="1.35" fill="#000"/>
<circle cx="436.8" cy="612.45" r="2.1" fill="none" stroke="#f00" stroke-width="1.0"/>
<circle cx="439.51" cy="665.55" r="3.25" fill="#fff" stroke="#f00" stroke-width="1.05"/>
<circle cx="439.51" cy="665.55" r="1.35" fill="#000"/>
<circle cx="454.4" cy="559.35" r="2.1" fill="none" stroke="#00f" stroke-width="1.0"/>
<circle cx="453.2" cy="576.35" r="2.1" fill="none" stroke="#00f" stroke-width="1.0"/>
<circle cx="448.9" cy="740.65" r="2.1" fill="none" stroke="#00f" stroke-width="1.0"/>
<circle cx="452.4" cy="736.85" r="2.1" fill="none" stroke="#00f" stroke-width="1.0"/>
<circle cx="451.9" cy="743.25" r="2.1" fill="none" stroke="#00f" stroke-width="1.0"/>
<circle cx="451.01" cy="637.55" r="3.25" fill="#fff" stroke="#00f" stroke-width="1.05"/>
<circle cx="451.01" cy="637.55" r="1.35" fill="#000"/>
<circle cx="474.6" cy="549.25" r="2.1" fill="none" stroke="#000" stroke-width="1.0"/>
<circle cx="485" cy="658.55" r="2.1" fill="none" stroke="#000" stroke-width="1.0"/>
<circle cx="478.59" cy="615.55" r="3.25" fill="#fff" stroke="#000" stroke-width="1.05"/>
<circle cx="478.59" cy="615.55" r="1.35" fill="#000"/>
<circle cx="489.89" cy="658.55" r="3.25" fill="#fff" stroke="#f00" stroke-width="1.05"/>
<circle cx="489.89" cy="658.55" r="1.35" fill="#000"/>
<circle cx="501.39" cy="646.65" r="3.25" fill="#fff" stroke="#00f" stroke-width="1.05"/>
<circle cx="501.39" cy="646.65" r="1.35" fill="#000"/>
<circle cx="528.97" cy="600.25" r="3.25" fill="#fff" stroke="#000" stroke-width="1.05"/>
<circle cx="528.97" cy="600.25" r="1.35" fill="#000"/>
<circle cx="540.27" cy="674.95" r="3.25" fill="#fff" stroke="#f00" stroke-width="1.05"/>
<circle cx="540.27" cy="674.95" r="1.35" fill="#000"/>
<circle cx="551.77" cy="669.85" r="3.25" fill="#fff" stroke="#00f" stroke-width="1.05"/>
<circle cx="551.77" cy="669.85" r="1.35" fill="#000"/>
<rect x="473.5" y="555.5" width="87.0" height="58.5" fill="#fff" stroke="#444" stroke-width="1"/>
<line x1="480.5" y1="566.0" x2="514.0" y2="566.0" stroke="#000" stroke-width="1"/>
<text x="518.0" y="571.8" class="t">IIR</text>
<line x1="480.5" y1="584.9" x2="514.0" y2="584.9" stroke="#f00" stroke-width="1"/>
<text x="518.0" y="590.6999999999999" class="t">Asym</text>
<line x1="480.5" y1="603.4" x2="514.0" y2="603.4" stroke="#00f" stroke-width="1"/>
<text x="518.0" y="609.1999999999999" class="t">nICS</text>
<text x="86.6" y="762" text-anchor="middle" class="t">0.077</text>
<text x="137.1" y="762" text-anchor="middle" class="t">0.13</text>
<text x="187.6" y="762" text-anchor="middle" class="t">0.23</text>
<text x="238.2" y="762" text-anchor="middle" class="t">0.39</text>
<text x="288.6" y="762" text-anchor="middle" class="t">0.67</text>
<text x="339.1" y="762" text-anchor="middle" class="t">1.1</text>
<text x="389.6" y="762" text-anchor="middle" class="t">2</text>
<text x="440.1" y="762" text-anchor="middle" class="t">3.4</text>
<text x="490.6" y="762" text-anchor="middle" class="t">5.8</text>
<text x="541.1" y="762" text-anchor="middle" class="t">10</text>
<text x="314.5" y="777.5" text-anchor="middle" class="t">Bias coefficient (vw<tspan font-size="12" dy="8.4">r</tspan><tspan dy="-8.4">/4D)</tspan></text>
<text transform="translate(26.0,647.3) rotate(-90)" text-anchor="middle" class="t">(D–D<tspan font-size="12" dy="8.4">SET</tspan><tspan dy="-8.4">)/D</tspan><tspan font-size="12" dy="8.4">SET</tspan></text>
</svg>
</body></html>
